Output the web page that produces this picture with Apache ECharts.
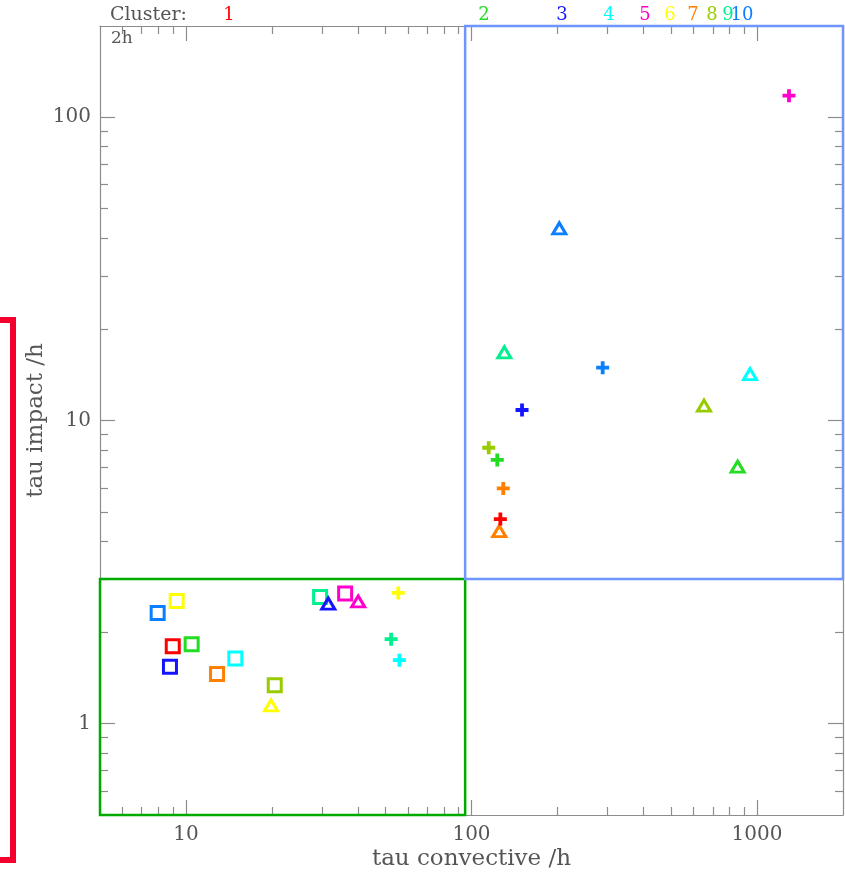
<!DOCTYPE html>
<html><head><meta charset="utf-8">
<script src="https://cdn.jsdelivr.net/npm/echarts@6/dist/echarts.min.js"></script>
<style>html,body{margin:0;padding:0;background:#fff}#c{width:845px;height:875px}</style>
</head><body><div id="c"></div>
<script>
// ---- data ----
const clusters = ['1','2','3','4','5','6','7','8','9','10'];
const squareX   = [8.99, 10.47, 8.79, 14.89, 36.1, 9.28, 12.85, 20.46, 29.5, 7.96];
const squareY   = [1.80, 1.83, 1.54, 1.64, 2.69, 2.54, 1.46, 1.34, 2.62, 2.32];
const triangleX = [null, 855, 31.5, 945, 40.1, 19.86, 125.1, 652, 130.3, 203];
const triangleY = [null, 7.04, 2.49, 14.23, 2.53, 1.15, 4.32, 11.19, 16.78, 43.0];
const plusX     = [126.2, 123.1, 150.3, 55.9, 1294, 55.4, 129.2, 114.9, 52.3, 288];
const plusY     = [4.73, 7.41, 10.83, 1.62, 117.8, 2.70, 5.97, 8.13, 1.90, 14.93];
const xMajorTicks = [10, 100, 1000];
const xMinorTicks = [6,7,8,9,20,30,40,50,60,70,80,90,200,300,400,500,600,700,800,900];
const yMajorTicks = [1, 10, 100];
const yMinorTicks = [0.6,0.7,0.8,0.9,2,3,4,5,6,7,8,9,20,30,40,50,60,70,80,90];
const xRange = [5, 2000];
const yRange = [0.5, 200];
const lowBox  = [[5, 0.5], [95, 3]];
const highBox = [[95, 3], [2000, 200]];

// ---- styles ----
const clusterColors = ['#ff0000','#22dd22','#1414ff','#00ffff','#ff00cc','#ffff00','#ff8000','#99cc00','#00f090','#0a7fff'];
const clusterLabelPx = [229, 484, 562, 609, 645, 670, 693, 712, 728, 742];
const FONT = '"DejaVu Serif", serif';
const AX = '#8c8c8c';
const TXT = '#555';
const plusPath = 'path://M4.25,0H7.75V4.25H12V7.75H7.75V12H4.25V7.75H0V4.25H4.25Z';

function mkX(pos, ticks, len, withLabel, showLine) {
  return {
    type: 'log', logBase: 10, min: xRange[0], max: xRange[1], position: pos,
    axisLine: { show: showLine, lineStyle: { color: AX, width: 1.2 } },
    axisTick: { show: true, inside: true, length: len, customValues: ticks, lineStyle: { color: AX, width: 1.2 } },
    axisLabel: withLabel ? { show: true, customValues: ticks, formatter: v => String(v), color: TXT, fontFamily: FONT, fontSize: 20, margin: 10 } : { show: false },
    splitLine: { show: false }, minorTick: { show: false },
    name: withLabel ? 'tau convective /h' : '', nameLocation: 'middle', nameGap: 33, nameMoveOverlap: false,
    nameTextStyle: { color: TXT, fontFamily: FONT, fontSize: 23 }
  };
}
function mkY(pos, ticks, len, withLabel, showLine) {
  return {
    type: 'log', logBase: 10, min: yRange[0], max: yRange[1], position: pos,
    axisLine: { show: showLine, lineStyle: { color: AX, width: 1.2 } },
    axisTick: { show: true, inside: true, length: len, customValues: ticks, lineStyle: { color: AX, width: 1.2 } },
    axisLabel: withLabel ? { show: true, customValues: ticks, formatter: v => String(v), color: TXT, fontFamily: FONT, fontSize: 20, margin: 9 } : { show: false },
    splitLine: { show: false }, minorTick: { show: false },
    name: withLabel ? 'tau impact /h' : '', nameLocation: 'middle', nameGap: 52, nameMoveOverlap: false,
    nameTextStyle: { color: TXT, fontFamily: FONT, fontSize: 23 }
  };
}

const squares = squareX.map((x, i) => ({ value: [x, squareY[i]], itemStyle: { borderColor: clusterColors[i] } }));
const triangles = triangleX.map((x, i) => x == null ? null : ({ value: [x, triangleY[i]], itemStyle: { borderColor: clusterColors[i] } })).filter(d => d);
const pluses = plusX.map((x, i) => ({ value: [x, plusY[i]], itemStyle: { color: clusterColors[i] } }));

const chart = echarts.init(document.getElementById('c'), null, { renderer: 'canvas' });
chart.setOption({
  backgroundColor: '#fff',
  animation: false,
  grid: { left: 100, top: 26, width: 743, height: 789, containLabel: false, outerBoundsMode: 'none' },
  xAxis: [
    mkX('bottom', xMajorTicks, 15, true, true),
    mkX('bottom', xMinorTicks, 8, false, false),
    mkX('top', xMajorTicks, 15, false, true),
    mkX('top', xMinorTicks, 8, false, false)
  ],
  yAxis: [
    mkY('left', yMajorTicks, 15, true, true),
    mkY('left', yMinorTicks, 8, false, false),
    mkY('right', yMajorTicks, 15, false, true),
    mkY('right', yMinorTicks, 8, false, false)
  ],
  series: [
    {
      type: 'scatter', name: 'boxes', data: [], xAxisIndex: 0, yAxisIndex: 0,
      markArea: {
        silent: true,
        data: [
          [{ coord: lowBox[0], itemStyle: { color: 'rgba(0,0,0,0)', borderColor: '#00aa00', borderWidth: 2.5 } }, { coord: lowBox[1] }],
          [{ coord: highBox[0], itemStyle: { color: 'rgba(0,0,0,0)', borderColor: '#6f96ff', borderWidth: 2.5 } }, { coord: highBox[1] }]
        ]
      }
    },
    {
      type: 'scatter', name: 'square', symbol: 'rect', symbolSize: 13, data: squares,
      itemStyle: { color: 'rgba(255,255,255,0)', borderWidth: 3, opacity: 1 }
    },
    {
      type: 'scatter', name: 'triangle', symbol: 'triangle', symbolSize: [13, 11], data: triangles,
      itemStyle: { color: 'rgba(255,255,255,0)', borderWidth: 3, opacity: 1 }
    },
    {
      type: 'scatter', name: 'plus', symbol: plusPath, symbolSize: 13, data: pluses,
      itemStyle: { opacity: 1 }
    }
  ],
  graphic: [
    { type: 'text', x: 110, y: 15, style: { text: 'Cluster:', fill: TXT, font: '19px ' + FONT, verticalAlign: 'middle' } },
    { type: 'text', x: 111, y: 39, style: { text: '2h', fill: TXT, font: '17px ' + FONT, verticalAlign: 'middle' } },
    ...clusters.map((c, i) => ({
      type: 'text', x: clusterLabelPx[i], y: 15,
      style: { text: c, fill: clusterColors[i], font: '18px ' + FONT, align: 'center', verticalAlign: 'middle' }
    })),
    { type: 'polyline', shape: { points: [[0, 320], [13, 320], [13, 860], [0, 860]] }, style: { stroke: '#f5002d', lineWidth: 6, fill: null } }
  ]
});
</script>
</body></html>
